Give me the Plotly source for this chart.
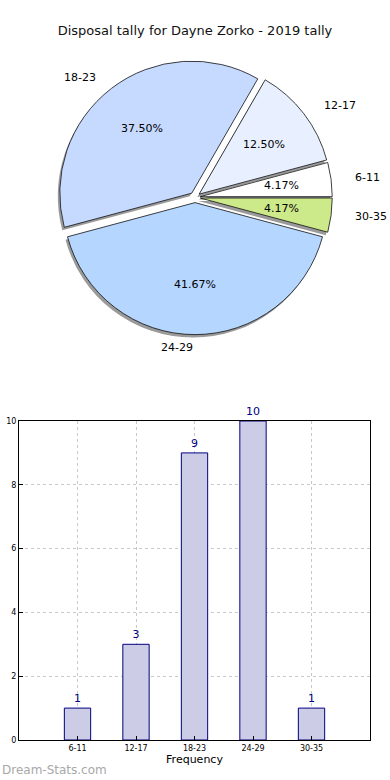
import math
import plotly.graph_objects as go

# ---- data ----
categories = ["6-11", "12-17", "18-23", "24-29", "30-35"]
counts = [1, 3, 9, 10, 1]
pie_colors = ["#ffffff", "#e8f0ff", "#c6daff", "#b5d6ff", "#cdea8a"]
title_text = "Disposal tally for Dayne Zorko - 2019 tally"
x_title = "Frequency"
watermark = "Dream-Stats.com"

W, H = 390, 780
FONT = "DejaVu Sans"
PULL = 0.04

total = sum(counts)
# plotly counterclockwise pies: first slice ends (in ccw sense) at `rotation`
rotation = 90 - 360 * counts[0] / total

fig = go.Figure()

dom_x = [0.1, 0.9]
dom_y = [0.571, 0.923]
shadow_dx, shadow_dy = -2 / W, -3 / H

fig.add_trace(go.Pie(
    labels=categories, values=counts, sort=False, direction="counterclockwise",
    rotation=rotation, pull=[PULL] * len(counts),
    marker=dict(colors=["#9a9a9a"] * len(counts), line=dict(width=0)),
    textinfo="none", hoverinfo="skip", showlegend=False,
    domain=dict(x=[dom_x[0] + shadow_dx, dom_x[1] + shadow_dx],
                y=[dom_y[0] + shadow_dy, dom_y[1] + shadow_dy]),
))
fig.add_trace(go.Pie(
    labels=categories, values=counts, sort=False, direction="counterclockwise",
    rotation=rotation, pull=[PULL] * len(counts),
    marker=dict(colors=pie_colors, line=dict(color="#111111", width=0.8)),
    textinfo="none", showlegend=False,
    domain=dict(x=dom_x, y=dom_y),
))

wpx = (dom_x[1] - dom_x[0]) * W
hpx = (dom_y[1] - dom_y[0]) * H
R = min(wpx, hpx) / 2 / (1 + PULL)
cx = (dom_x[0] + dom_x[1]) / 2 * W
cy = (1 - (dom_y[0] + dom_y[1]) / 2) * H
start = 0.0
for lab, v in zip(categories, counts):
    frac = v / total
    mid = math.radians((start + frac / 2) * 360)
    start += frac
    c, s = math.cos(mid), math.sin(mid)
    d = 1.1 * R + PULL * R
    lx, ly = cx + d * c * 1.06, cy - d * s
    xa = "left" if c > 0 else "right"
    fig.add_annotation(x=lx / W, y=1 - ly / H, xref="paper", yref="paper",
                       text=lab, showarrow=False, xanchor=xa, yanchor="middle",
                       font=dict(family=FONT, size=11, color="#000000"))
    d2 = 0.62 * R + PULL * R
    px_, py_ = cx + d2 * c, cy - d2 * s
    fig.add_annotation(x=px_ / W, y=1 - py_ / H, xref="paper", yref="paper",
                       text=f"{100 * frac:.2f}%", showarrow=False,
                       xanchor="center", yanchor="middle",
                       font=dict(family=FONT, size=11, color="#000000"))

fig.add_trace(go.Bar(
    x=categories, y=counts, width=0.45,
    marker=dict(color="#ccccE6", line=dict(color="#000080", width=1)),
    text=[str(v) for v in counts], textposition="outside",
    textfont=dict(family=FONT, size=11, color="#000080"),
    constraintext="none", cliponaxis=False, showlegend=False,
    xaxis="x", yaxis="y",
))

fig.update_layout(
    width=W, height=H,
    margin=dict(l=0, r=0, t=0, b=0),
    paper_bgcolor="white", plot_bgcolor="white",
    font=dict(family=FONT, color="#000000"),
    title=dict(text=title_text, x=0.5, xanchor="center", y=1 - 30 / H,
               yanchor="middle", font=dict(family=FONT, size=13, color="#111111")),
    xaxis=dict(domain=[19 / W, 370 / W], anchor="y", type="category",
               range=[-1, 5], showline=True, linecolor="black", linewidth=1,
               mirror=True, showgrid=True, gridcolor="#c8c8c8", griddash="dot",
               ticks="inside", ticklen=4, tickcolor="black",
               tickfont=dict(family=FONT, size=8, color="#000000"),
               title=dict(text=x_title, standoff=3,
                          font=dict(family=FONT, size=11, color="#000000")),
               automargin=False, zeroline=False, layer="above traces"),
    yaxis=dict(domain=[1 - 740 / H, 1 - 421 / H], anchor="x",
               range=[0, 10], dtick=2, showline=True, linecolor="black",
               linewidth=1, mirror=True, showgrid=True, gridcolor="#c8c8c8",
               griddash="dot", ticks="inside", ticklen=4, tickcolor="black",
               tickfont=dict(family=FONT, size=8, color="#000000"),
               automargin=False, zeroline=False, layer="above traces"),
)

fig.add_annotation(x=0, y=1 - 770 / H, xref="paper", yref="paper",
                   text=watermark, showarrow=False, xanchor="left",
                   yanchor="middle",
                   font=dict(family=FONT, size=12, color="#a8a8a8"))

fig.write_html("out.html", config={"displayModeBar": False},
               post_script="document.body.style.margin='0';document.body.style.overflow='hidden';")
